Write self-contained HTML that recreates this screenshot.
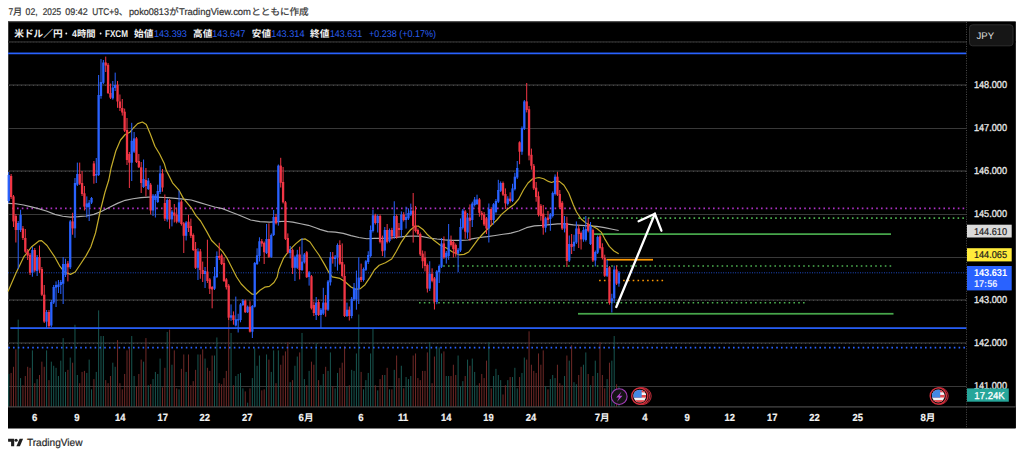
<!DOCTYPE html>
<html><head><meta charset="utf-8"><title>USDJPY</title>
<style>html,body{margin:0;padding:0;background:#fff;}svg{display:block}text{font-family:"Liberation Sans","Noto Sans CJK JP",sans-serif;white-space:pre;text-rendering:geometricPrecision}</style>
</head><body>
<svg width="1024" height="457" viewBox="0 0 1024 457">
<rect width="1024" height="457" fill="#fff"/>
<g id="caption" stroke="#3a3a3a" stroke-width="0.22" aria-label="7月 02, 2025 09:42 UTC+9、poko0813がTradingView.comとともに作成">
<text x="8.4" y="15.3" font-size="9.7" fill="#343434" textLength="4.7" lengthAdjust="spacingAndGlyphs">7</text>
<text x="12.9" y="14.9" font-size="9.2" fill="#343434">月</text>
<text x="25.6" y="15.3" font-size="9.7" fill="#343434" textLength="12" lengthAdjust="spacingAndGlyphs">02,</text>
<text x="42.75" y="15.3" font-size="9.7" fill="#343434" textLength="18.3" lengthAdjust="spacingAndGlyphs">2025</text>
<text x="65.25" y="15.3" font-size="9.7" fill="#343434" textLength="22.4" lengthAdjust="spacingAndGlyphs">09:42</text>
<text x="92.3" y="15.3" font-size="9.7" fill="#343434" textLength="26.5" lengthAdjust="spacingAndGlyphs">UTC+9</text>
<text x="118.8" y="14.9" font-size="9.2" fill="#343434">、</text>
<text x="129" y="15.3" font-size="9.7" fill="#343434" textLength="40" lengthAdjust="spacingAndGlyphs">poko0813</text>
<text x="169.3" y="14.9" font-size="9.4" fill="#343434">が</text>
<text x="179" y="15.3" font-size="9.7" fill="#343434" textLength="72" lengthAdjust="spacingAndGlyphs">TradingView.com</text>
<text x="251.3" y="14.9" font-size="9.4" fill="#343434" textLength="57.4" lengthAdjust="spacingAndGlyphs">とともに作成</text>
</g>
<rect x="8" y="21.5" width="1007.6" height="406.8" fill="#000"/>
<rect x="8" y="21.5" width="1007.6" height="1" fill="#2a2a2a"/>
<rect x="8" y="22" width="1" height="406" fill="#3c3c3c"/>
<g id="grid">
<rect x="8" y="41" width="1007.6" height="1.8" fill="#222"/>
<line x1="9" x2="1015.6" y1="42.1" y2="42.1" stroke="#303030" stroke-width="1" stroke-dasharray="1 2"/>
<rect x="8" y="386.1" width="958.5" height="0.9" fill="#404040"/>
<rect x="8" y="342.1" width="958.5" height="1.8" fill="#262626"/>
<line x1="9" x2="966.5" y1="343.4" y2="343.4" stroke="#4a4a4a" stroke-width="1" stroke-dasharray="1 3"/>
<rect x="8" y="299.1" width="958.5" height="1.8" fill="#262626"/>
<line x1="9" x2="966.5" y1="300.4" y2="300.4" stroke="#4a4a4a" stroke-width="1" stroke-dasharray="1 3"/>
<rect x="8" y="257.1" width="958.5" height="0.9" fill="#404040"/>
<rect x="8" y="214.1" width="958.5" height="0.9" fill="#404040"/>
<rect x="8" y="170.1" width="958.5" height="1.8" fill="#262626"/>
<line x1="9" x2="966.5" y1="171.4" y2="171.4" stroke="#4a4a4a" stroke-width="1" stroke-dasharray="1 3"/>
<rect x="8" y="128.1" width="958.5" height="0.9" fill="#404040"/>
<rect x="8" y="84.1" width="958.5" height="1.8" fill="#262626"/>
<line x1="9" x2="966.5" y1="85.4" y2="85.4" stroke="#4a4a4a" stroke-width="1" stroke-dasharray="1 3"/>
</g>
<g id="vol">
<rect x="8.25" y="373.97" width="1" height="33.03" fill="#185650"/>
<rect x="10.62" y="372.94" width="1" height="34.06" fill="#6e2927"/>
<rect x="12.98" y="366.79" width="1" height="40.21" fill="#6e2927"/>
<rect x="15.35" y="349.36" width="1" height="57.64" fill="#6e2927"/>
<rect x="17.71" y="319.62" width="1" height="87.38" fill="#185650"/>
<rect x="20.08" y="378.07" width="1" height="28.93" fill="#185650"/>
<rect x="22.44" y="385.25" width="1" height="21.75" fill="#6e2927"/>
<rect x="24.8" y="376.02" width="1" height="30.98" fill="#6e2927"/>
<rect x="27.17" y="366.79" width="1" height="40.21" fill="#6e2927"/>
<rect x="29.54" y="367.81" width="1" height="39.19" fill="#6e2927"/>
<rect x="31.9" y="350.38" width="1" height="56.62" fill="#185650"/>
<rect x="34.27" y="383.2" width="1" height="23.8" fill="#6e2927"/>
<rect x="36.63" y="379.09" width="1" height="27.91" fill="#185650"/>
<rect x="39" y="374.99" width="1" height="32.01" fill="#6e2927"/>
<rect x="41.36" y="361.66" width="1" height="45.34" fill="#6e2927"/>
<rect x="43.73" y="366.79" width="1" height="40.21" fill="#6e2927"/>
<rect x="46.09" y="350.38" width="1" height="56.62" fill="#185650"/>
<rect x="48.46" y="380.12" width="1" height="26.88" fill="#6e2927"/>
<rect x="50.82" y="361.66" width="1" height="45.34" fill="#185650"/>
<rect x="53.19" y="365.76" width="1" height="41.24" fill="#185650"/>
<rect x="55.55" y="367.81" width="1" height="39.19" fill="#185650"/>
<rect x="57.92" y="376.02" width="1" height="30.98" fill="#185650"/>
<rect x="60.28" y="360.64" width="1" height="46.36" fill="#185650"/>
<rect x="62.65" y="338.08" width="1" height="68.92" fill="#185650"/>
<rect x="65.01" y="371.92" width="1" height="35.08" fill="#185650"/>
<rect x="67.38" y="369.86" width="1" height="37.14" fill="#6e2927"/>
<rect x="69.74" y="357.56" width="1" height="49.44" fill="#185650"/>
<rect x="72.11" y="362.69" width="1" height="44.31" fill="#6e2927"/>
<rect x="74.47" y="324.75" width="1" height="82.25" fill="#185650"/>
<rect x="76.84" y="374.99" width="1" height="32.01" fill="#185650"/>
<rect x="79.2" y="383.2" width="1" height="23.8" fill="#6e2927"/>
<rect x="81.57" y="371.92" width="1" height="35.08" fill="#6e2927"/>
<rect x="83.93" y="370.89" width="1" height="36.11" fill="#6e2927"/>
<rect x="86.3" y="372.94" width="1" height="34.06" fill="#185650"/>
<rect x="88.66" y="359.61" width="1" height="47.39" fill="#185650"/>
<rect x="91.03" y="389.35" width="1" height="17.65" fill="#185650"/>
<rect x="93.39" y="379.09" width="1" height="27.91" fill="#6e2927"/>
<rect x="95.76" y="371.92" width="1" height="35.08" fill="#185650"/>
<rect x="98.12" y="310.39" width="1" height="96.61" fill="#185650"/>
<rect x="100.49" y="336.03" width="1" height="70.97" fill="#185650"/>
<rect x="102.85" y="336.03" width="1" height="70.97" fill="#185650"/>
<rect x="105.22" y="380.12" width="1" height="26.88" fill="#6e2927"/>
<rect x="107.58" y="383.2" width="1" height="23.8" fill="#6e2927"/>
<rect x="109.95" y="376.02" width="1" height="30.98" fill="#6e2927"/>
<rect x="112.31" y="362.69" width="1" height="44.31" fill="#185650"/>
<rect x="114.68" y="366.79" width="1" height="40.21" fill="#185650"/>
<rect x="117.04" y="340.13" width="1" height="66.87" fill="#6e2927"/>
<rect x="119.41" y="383.2" width="1" height="23.8" fill="#6e2927"/>
<rect x="121.77" y="389.35" width="1" height="17.65" fill="#6e2927"/>
<rect x="124.14" y="373.97" width="1" height="33.03" fill="#6e2927"/>
<rect x="126.5" y="350.38" width="1" height="56.62" fill="#6e2927"/>
<rect x="128.87" y="348.33" width="1" height="58.67" fill="#6e2927"/>
<rect x="131.23" y="336.03" width="1" height="70.97" fill="#185650"/>
<rect x="133.6" y="376.02" width="1" height="30.98" fill="#185650"/>
<rect x="135.96" y="386.27" width="1" height="20.73" fill="#6e2927"/>
<rect x="138.33" y="373.97" width="1" height="33.03" fill="#6e2927"/>
<rect x="140.69" y="359.61" width="1" height="47.39" fill="#6e2927"/>
<rect x="143.06" y="361.66" width="1" height="45.34" fill="#185650"/>
<rect x="145.42" y="338.08" width="1" height="68.92" fill="#6e2927"/>
<rect x="147.79" y="385.25" width="1" height="21.75" fill="#185650"/>
<rect x="150.15" y="384.22" width="1" height="22.78" fill="#6e2927"/>
<rect x="152.52" y="379.09" width="1" height="27.91" fill="#185650"/>
<rect x="154.88" y="371.92" width="1" height="35.08" fill="#185650"/>
<rect x="157.25" y="373.97" width="1" height="33.03" fill="#185650"/>
<rect x="159.61" y="358.58" width="1" height="48.42" fill="#185650"/>
<rect x="161.98" y="387.3" width="1" height="19.7" fill="#6e2927"/>
<rect x="164.34" y="367.81" width="1" height="39.19" fill="#6e2927"/>
<rect x="166.71" y="331.92" width="1" height="75.08" fill="#185650"/>
<rect x="169.07" y="329.67" width="1" height="77.33" fill="#6e2927"/>
<rect x="171.44" y="364.74" width="1" height="42.26" fill="#185650"/>
<rect x="173.8" y="350.38" width="1" height="56.62" fill="#6e2927"/>
<rect x="176.17" y="388.32" width="1" height="18.68" fill="#6e2927"/>
<rect x="178.53" y="389.35" width="1" height="17.65" fill="#185650"/>
<rect x="180.9" y="368.84" width="1" height="38.16" fill="#6e2927"/>
<rect x="183.26" y="354.48" width="1" height="52.52" fill="#6e2927"/>
<rect x="185.63" y="371.92" width="1" height="35.08" fill="#185650"/>
<rect x="187.99" y="354.48" width="1" height="52.52" fill="#6e2927"/>
<rect x="190.36" y="385.25" width="1" height="21.75" fill="#6e2927"/>
<rect x="192.72" y="381.14" width="1" height="25.86" fill="#6e2927"/>
<rect x="195.09" y="369.86" width="1" height="37.14" fill="#6e2927"/>
<rect x="197.45" y="354.48" width="1" height="52.52" fill="#185650"/>
<rect x="199.82" y="354.48" width="1" height="52.52" fill="#6e2927"/>
<rect x="202.18" y="349.36" width="1" height="57.64" fill="#6e2927"/>
<rect x="204.55" y="358.58" width="1" height="48.42" fill="#185650"/>
<rect x="206.91" y="367.81" width="1" height="39.19" fill="#6e2927"/>
<rect x="209.28" y="370.89" width="1" height="36.11" fill="#6e2927"/>
<rect x="211.64" y="355.51" width="1" height="51.49" fill="#6e2927"/>
<rect x="214.01" y="355.51" width="1" height="51.49" fill="#185650"/>
<rect x="216.37" y="337.46" width="1" height="69.54" fill="#185650"/>
<rect x="218.74" y="383.2" width="1" height="23.8" fill="#6e2927"/>
<rect x="221.1" y="384.22" width="1" height="22.78" fill="#6e2927"/>
<rect x="223.47" y="378.07" width="1" height="28.93" fill="#6e2927"/>
<rect x="225.83" y="370.89" width="1" height="36.11" fill="#6e2927"/>
<rect x="228.2" y="317.98" width="1" height="89.02" fill="#6e2927"/>
<rect x="230.56" y="332.95" width="1" height="74.05" fill="#185650"/>
<rect x="232.93" y="385.25" width="1" height="21.75" fill="#6e2927"/>
<rect x="235.29" y="376.02" width="1" height="30.98" fill="#185650"/>
<rect x="237.66" y="373.97" width="1" height="33.03" fill="#185650"/>
<rect x="240.02" y="372.94" width="1" height="34.06" fill="#185650"/>
<rect x="242.39" y="388.32" width="1" height="18.68" fill="#185650"/>
<rect x="244.75" y="391.4" width="1" height="15.6" fill="#6e2927"/>
<rect x="247.12" y="402.68" width="1" height="4.32" fill="#185650"/>
<rect x="249.48" y="388.32" width="1" height="18.68" fill="#6e2927"/>
<rect x="251.85" y="378.07" width="1" height="28.93" fill="#185650"/>
<rect x="254.21" y="348.33" width="1" height="58.67" fill="#185650"/>
<rect x="256.58" y="365.76" width="1" height="41.24" fill="#185650"/>
<rect x="258.94" y="355.51" width="1" height="51.49" fill="#185650"/>
<rect x="261.31" y="390.37" width="1" height="16.63" fill="#6e2927"/>
<rect x="263.67" y="389.35" width="1" height="17.65" fill="#6e2927"/>
<rect x="266.04" y="354.48" width="1" height="52.52" fill="#185650"/>
<rect x="268.4" y="359.61" width="1" height="47.39" fill="#6e2927"/>
<rect x="270.77" y="371.92" width="1" height="35.08" fill="#185650"/>
<rect x="273.13" y="350.38" width="1" height="56.62" fill="#185650"/>
<rect x="275.5" y="383.2" width="1" height="23.8" fill="#6e2927"/>
<rect x="277.86" y="350.38" width="1" height="56.62" fill="#185650"/>
<rect x="280.23" y="364.74" width="1" height="42.26" fill="#6e2927"/>
<rect x="282.59" y="355.51" width="1" height="51.49" fill="#6e2927"/>
<rect x="284.96" y="351.41" width="1" height="55.59" fill="#6e2927"/>
<rect x="287.32" y="342.18" width="1" height="64.82" fill="#6e2927"/>
<rect x="289.69" y="382.17" width="1" height="24.83" fill="#185650"/>
<rect x="292.05" y="380.12" width="1" height="26.88" fill="#6e2927"/>
<rect x="294.42" y="365.76" width="1" height="41.24" fill="#185650"/>
<rect x="296.78" y="356.53" width="1" height="50.47" fill="#185650"/>
<rect x="299.15" y="352.43" width="1" height="54.57" fill="#6e2927"/>
<rect x="301.51" y="332.95" width="1" height="74.05" fill="#185650"/>
<rect x="303.88" y="379.09" width="1" height="27.91" fill="#185650"/>
<rect x="306.24" y="385.25" width="1" height="21.75" fill="#6e2927"/>
<rect x="308.61" y="370.89" width="1" height="36.11" fill="#185650"/>
<rect x="310.97" y="361.66" width="1" height="45.34" fill="#6e2927"/>
<rect x="313.34" y="364.74" width="1" height="42.26" fill="#6e2927"/>
<rect x="315.7" y="343.2" width="1" height="63.8" fill="#185650"/>
<rect x="318.07" y="380.12" width="1" height="26.88" fill="#6e2927"/>
<rect x="320.43" y="385.25" width="1" height="21.75" fill="#185650"/>
<rect x="322.8" y="373.97" width="1" height="33.03" fill="#185650"/>
<rect x="325.16" y="366.79" width="1" height="40.21" fill="#6e2927"/>
<rect x="327.53" y="370.89" width="1" height="36.11" fill="#185650"/>
<rect x="329.89" y="352.43" width="1" height="54.57" fill="#185650"/>
<rect x="332.26" y="386.27" width="1" height="20.73" fill="#6e2927"/>
<rect x="334.62" y="388.32" width="1" height="18.68" fill="#185650"/>
<rect x="336.99" y="372.94" width="1" height="34.06" fill="#185650"/>
<rect x="339.35" y="367.81" width="1" height="39.19" fill="#6e2927"/>
<rect x="341.72" y="362.69" width="1" height="44.31" fill="#6e2927"/>
<rect x="344.08" y="346.28" width="1" height="60.72" fill="#6e2927"/>
<rect x="346.45" y="386.27" width="1" height="20.73" fill="#185650"/>
<rect x="348.81" y="385.25" width="1" height="21.75" fill="#6e2927"/>
<rect x="351.18" y="369.86" width="1" height="37.14" fill="#185650"/>
<rect x="353.54" y="370.89" width="1" height="36.11" fill="#185650"/>
<rect x="355.91" y="353.46" width="1" height="53.54" fill="#185650"/>
<rect x="358.27" y="314.49" width="1" height="92.51" fill="#185650"/>
<rect x="360.64" y="371.92" width="1" height="35.08" fill="#6e2927"/>
<rect x="363" y="389.35" width="1" height="17.65" fill="#185650"/>
<rect x="365.37" y="380.12" width="1" height="26.88" fill="#185650"/>
<rect x="367.73" y="372.94" width="1" height="34.06" fill="#185650"/>
<rect x="370.1" y="353.46" width="1" height="53.54" fill="#185650"/>
<rect x="372.46" y="328.85" width="1" height="78.15" fill="#185650"/>
<rect x="374.83" y="385.25" width="1" height="21.75" fill="#6e2927"/>
<rect x="377.19" y="390.37" width="1" height="16.63" fill="#185650"/>
<rect x="379.56" y="379.09" width="1" height="27.91" fill="#6e2927"/>
<rect x="381.92" y="374.99" width="1" height="32.01" fill="#6e2927"/>
<rect x="384.29" y="374.99" width="1" height="32.01" fill="#185650"/>
<rect x="386.65" y="367.81" width="1" height="39.19" fill="#6e2927"/>
<rect x="389.02" y="389.35" width="1" height="17.65" fill="#185650"/>
<rect x="391.38" y="389.35" width="1" height="17.65" fill="#6e2927"/>
<rect x="393.75" y="369.86" width="1" height="37.14" fill="#185650"/>
<rect x="396.11" y="355.51" width="1" height="51.49" fill="#6e2927"/>
<rect x="398.48" y="378.07" width="1" height="28.93" fill="#6e2927"/>
<rect x="400.84" y="365.76" width="1" height="41.24" fill="#185650"/>
<rect x="403.21" y="388.32" width="1" height="18.68" fill="#6e2927"/>
<rect x="405.57" y="377.04" width="1" height="29.96" fill="#185650"/>
<rect x="407.94" y="379.09" width="1" height="27.91" fill="#185650"/>
<rect x="410.3" y="376.02" width="1" height="30.98" fill="#185650"/>
<rect x="412.67" y="355.51" width="1" height="51.49" fill="#6e2927"/>
<rect x="415.03" y="353.46" width="1" height="53.54" fill="#6e2927"/>
<rect x="417.4" y="378.07" width="1" height="28.93" fill="#6e2927"/>
<rect x="419.76" y="380.12" width="1" height="26.88" fill="#6e2927"/>
<rect x="422.13" y="370.89" width="1" height="36.11" fill="#6e2927"/>
<rect x="424.49" y="370.89" width="1" height="36.11" fill="#6e2927"/>
<rect x="426.86" y="352.43" width="1" height="54.57" fill="#6e2927"/>
<rect x="429.22" y="342.18" width="1" height="64.82" fill="#185650"/>
<rect x="431.59" y="383.2" width="1" height="23.8" fill="#6e2927"/>
<rect x="433.95" y="356.53" width="1" height="50.47" fill="#6e2927"/>
<rect x="436.32" y="346.28" width="1" height="60.72" fill="#185650"/>
<rect x="438.68" y="347.31" width="1" height="59.69" fill="#185650"/>
<rect x="441.05" y="353.46" width="1" height="53.54" fill="#185650"/>
<rect x="443.41" y="351.41" width="1" height="55.59" fill="#6e2927"/>
<rect x="445.78" y="376.02" width="1" height="30.98" fill="#185650"/>
<rect x="448.14" y="376.02" width="1" height="30.98" fill="#185650"/>
<rect x="450.51" y="376.02" width="1" height="30.98" fill="#6e2927"/>
<rect x="452.87" y="364.74" width="1" height="42.26" fill="#6e2927"/>
<rect x="455.24" y="374.99" width="1" height="32.01" fill="#6e2927"/>
<rect x="457.6" y="355.51" width="1" height="51.49" fill="#185650"/>
<rect x="459.97" y="386.27" width="1" height="20.73" fill="#185650"/>
<rect x="462.33" y="381.14" width="1" height="25.86" fill="#185650"/>
<rect x="464.7" y="376.02" width="1" height="30.98" fill="#6e2927"/>
<rect x="467.06" y="359.61" width="1" height="47.39" fill="#185650"/>
<rect x="469.43" y="365.76" width="1" height="41.24" fill="#6e2927"/>
<rect x="471.79" y="358.58" width="1" height="48.42" fill="#185650"/>
<rect x="474.16" y="371.92" width="1" height="35.08" fill="#185650"/>
<rect x="476.52" y="385.25" width="1" height="21.75" fill="#185650"/>
<rect x="478.89" y="383.2" width="1" height="23.8" fill="#6e2927"/>
<rect x="481.25" y="373.97" width="1" height="33.03" fill="#6e2927"/>
<rect x="483.62" y="378.07" width="1" height="28.93" fill="#6e2927"/>
<rect x="485.98" y="360.64" width="1" height="46.36" fill="#6e2927"/>
<rect x="488.35" y="342.18" width="1" height="64.82" fill="#185650"/>
<rect x="490.71" y="388.32" width="1" height="18.68" fill="#6e2927"/>
<rect x="493.08" y="376.02" width="1" height="30.98" fill="#185650"/>
<rect x="495.44" y="368.84" width="1" height="38.16" fill="#185650"/>
<rect x="497.81" y="374.99" width="1" height="32.01" fill="#185650"/>
<rect x="500.17" y="380.12" width="1" height="26.88" fill="#185650"/>
<rect x="502.54" y="394.47" width="1" height="12.53" fill="#6e2927"/>
<rect x="504.9" y="385.25" width="1" height="21.75" fill="#6e2927"/>
<rect x="507.27" y="380.12" width="1" height="26.88" fill="#185650"/>
<rect x="509.63" y="377.04" width="1" height="29.96" fill="#6e2927"/>
<rect x="512" y="377.04" width="1" height="29.96" fill="#185650"/>
<rect x="514.36" y="367.81" width="1" height="39.19" fill="#185650"/>
<rect x="516.73" y="388.32" width="1" height="18.68" fill="#185650"/>
<rect x="519.09" y="377.04" width="1" height="29.96" fill="#6e2927"/>
<rect x="521.46" y="372.94" width="1" height="34.06" fill="#185650"/>
<rect x="523.82" y="357.56" width="1" height="49.44" fill="#185650"/>
<rect x="526.19" y="359.61" width="1" height="47.39" fill="#6e2927"/>
<rect x="528.55" y="331.31" width="1" height="75.69" fill="#6e2927"/>
<rect x="530.92" y="364.74" width="1" height="42.26" fill="#6e2927"/>
<rect x="533.28" y="370.89" width="1" height="36.11" fill="#6e2927"/>
<rect x="535.65" y="372.94" width="1" height="34.06" fill="#6e2927"/>
<rect x="538.01" y="353.46" width="1" height="53.54" fill="#6e2927"/>
<rect x="540.38" y="364.74" width="1" height="42.26" fill="#6e2927"/>
<rect x="542.74" y="350.38" width="1" height="56.62" fill="#6e2927"/>
<rect x="545.11" y="386.27" width="1" height="20.73" fill="#185650"/>
<rect x="547.47" y="389.35" width="1" height="17.65" fill="#6e2927"/>
<rect x="549.84" y="379.09" width="1" height="27.91" fill="#185650"/>
<rect x="552.2" y="374.99" width="1" height="32.01" fill="#185650"/>
<rect x="554.57" y="378.07" width="1" height="28.93" fill="#185650"/>
<rect x="556.93" y="364.74" width="1" height="42.26" fill="#6e2927"/>
<rect x="559.3" y="383.2" width="1" height="23.8" fill="#6e2927"/>
<rect x="561.66" y="385.25" width="1" height="21.75" fill="#6e2927"/>
<rect x="564.03" y="376.02" width="1" height="30.98" fill="#185650"/>
<rect x="566.39" y="355.51" width="1" height="51.49" fill="#6e2927"/>
<rect x="568.75" y="360.64" width="1" height="46.36" fill="#185650"/>
<rect x="571.12" y="345.25" width="1" height="61.75" fill="#6e2927"/>
<rect x="573.49" y="382.17" width="1" height="24.83" fill="#185650"/>
<rect x="575.85" y="384.22" width="1" height="22.78" fill="#185650"/>
<rect x="578.22" y="374.99" width="1" height="32.01" fill="#6e2927"/>
<rect x="580.58" y="366.79" width="1" height="40.21" fill="#6e2927"/>
<rect x="582.95" y="364.74" width="1" height="42.26" fill="#185650"/>
<rect x="585.31" y="352.43" width="1" height="54.57" fill="#185650"/>
<rect x="587.68" y="373.97" width="1" height="33.03" fill="#6e2927"/>
<rect x="590.04" y="385.25" width="1" height="21.75" fill="#185650"/>
<rect x="592.41" y="376.02" width="1" height="30.98" fill="#6e2927"/>
<rect x="594.77" y="360.64" width="1" height="46.36" fill="#185650"/>
<rect x="597.14" y="372.94" width="1" height="34.06" fill="#185650"/>
<rect x="599.5" y="342.18" width="1" height="64.82" fill="#6e2927"/>
<rect x="601.87" y="374.99" width="1" height="32.01" fill="#6e2927"/>
<rect x="604.23" y="388.32" width="1" height="18.68" fill="#6e2927"/>
<rect x="606.6" y="379.09" width="1" height="27.91" fill="#185650"/>
<rect x="608.96" y="362.69" width="1" height="44.31" fill="#6e2927"/>
<rect x="611.33" y="360.64" width="1" height="46.36" fill="#185650"/>
<rect x="613.69" y="336.03" width="1" height="70.97" fill="#185650"/>
<rect x="616.06" y="384.22" width="1" height="22.78" fill="#6e2927"/>
<rect x="618.42" y="386.27" width="1" height="20.73" fill="#185650"/>
</g>
<g id="hl">
<rect x="8" y="52.55" width="958.5" height="1.7" fill="#2962ff"/>
<rect x="10.3" y="327.25" width="956.2" height="1.7" fill="#2962ff"/>
<line x1="12.2" x2="966.5" y1="208.4" y2="208.4" stroke="#ac30c4" stroke-width="1.6" stroke-dasharray="1.6 3.2" opacity="1"/>
<line x1="8.2" x2="966.5" y1="347.6" y2="347.6" stroke="#2962ff" stroke-width="1.6" stroke-dasharray="1.6 3.2" opacity="1"/>
<line x1="578.35" x2="966.5" y1="218.1" y2="218.1" stroke="#4caf50" stroke-width="1.6" stroke-dasharray="1.6 3.2" opacity="1"/>
<line x1="443.2" x2="892" y1="266" y2="266" stroke="#4caf50" stroke-width="1.6" stroke-dasharray="1.6 3.2" opacity="1"/>
<line x1="419" x2="806.3" y1="302.8" y2="302.8" stroke="#4caf50" stroke-width="1.6" stroke-dasharray="1.6 3.2" opacity="1"/>
<line x1="599.1" x2="664.5" y1="280.5" y2="280.5" stroke="#ff9800" stroke-width="1.6" stroke-dasharray="1.6 3.2" opacity="1"/>
<line x1="8" x2="966.5" y1="272.8" y2="272.8" stroke="#2962ff" stroke-width="1" stroke-dasharray="0.9 1.5" opacity="0.85"/>
<rect x="594" y="233.25" width="297" height="1.75" fill="#47a64b"/>
<rect x="578" y="312.9" width="315.5" height="1.75" fill="#47a64b"/>
<rect x="606.5" y="258.85" width="46.5" height="1.75" fill="#ff9800"/>
</g>
<polyline fill="none" stroke="#adadad" stroke-width="1.2" stroke-linejoin="round" points="8,203.4 15.8,203.75 23.6,205 31.4,206.9 39.25,208.9 47,211.25 54.9,214.4 62.7,216.25 70.5,217.2 78.3,216.7 86.1,216 93.9,214.4 101.75,211.25 109.6,207.3 117.4,203.4 125.2,200.3 133,198.75 140.8,197.7 148.6,197.2 156.4,197.2 164.25,197.5 167.8,197.7 175.6,198.4 183.4,199.2 191.25,200 199,202.3 206.9,204.7 214.7,207 222.5,208.6 230.3,211.7 238.1,214.8 245.9,218 250.6,220 260,221.7 269.4,222.2 278.75,221.7 285,221.25 292.8,222.2 300.6,223.75 308.4,225.3 316.25,228 319.8,229.4 327.6,231.7 335.4,232.2 343.25,233.3 351,235.6 358.9,237.5 366.7,238.75 374.5,238.4 382.3,238.3 390,238 398,237.2 405.75,236.4 413.6,236 421.4,236.4 429.2,238 437,239 444.8,239.8 452.6,240.3 460.4,240.3 468.25,240 471.8,238.9 479.6,237.5 487.4,236.6 495.25,235.5 503,234.25 510.9,233.2 518.7,231 526.5,227.7 534.3,225.8 542.1,225.3 549.9,224.6 557.75,223.8 565.6,223.8 573.4,224.9 581.2,225.3 589,225.8 596.8,226.4 604.6,227.7 612.4,229.25 618.7,230.5"/>
<polyline fill="none" stroke="#c4ac2a" stroke-width="1.2" stroke-linejoin="round" points="8,291.6 15.8,273.6 23.6,257.2 31.4,247 39.25,240.8 41.6,240.6 47,245.5 54.9,257.2 59.6,265.8 64.25,272 70.5,274.4 75.2,272 79.9,265 86.1,255.6 90.8,247 95.5,233 100.2,211.25 104.9,192.5 108.8,180 111.1,168 115.8,151 120.5,140 125.2,134.5 129.9,132.2 133,128.3 137.7,123.6 142.4,122 146.3,124.4 150.2,133.75 154.9,146.25 159.6,154 164.25,163.4 166.25,170.3 172.5,182.8 178.75,189.8 183.4,198.4 191.25,207.8 195.9,215.6 200.6,221 206.9,231.9 211.6,240.5 217.8,246.7 222.5,251.4 227.2,258.4 231.9,267.8 236.6,277 241.25,284 247.5,290.3 252.2,294.2 255.3,294.7 260,290.3 264.7,287.2 269.4,286.4 274,282.5 277.2,277 278.75,269.4 283.4,258.4 289.7,249.8 295.9,243.6 300.6,239.7 305.3,238.9 310,242 314.7,249 319,255 324.5,264.4 329.2,273 332.3,276.9 340,278.4 344.8,281.5 351,287 355.75,289.4 360.4,288.6 365,284.7 369.8,277.6 374.5,269.8 379.2,265.2 385.4,262.8 391.7,259 396.4,251.25 401,242.6 405.75,235.6 410.4,230 415,226.25 418.25,226 423,229.4 427.6,234.8 433.9,240.3 440,245 446.4,248 452.6,252 458.9,254.8 464,254.4 468.7,252 473.4,245.7 478,239.4 482.75,234 487.4,229.25 492,224.5 496.8,220 501.5,214.4 507.75,209 514,204.5 518.7,199 523.4,190 528,183 532.75,178.75 539,177.5 543.7,178.75 548.4,181.4 551.5,182.5 554.6,181.4 559.3,181.4 564,185.3 568.7,193 573.4,205 576.5,212 581.2,219 585.9,223 592,226 596.8,228.5 601.5,232.4 604.6,238.6 609.3,246.4 614,251 618.7,253.8"/>
<g id="candles">
<rect x="8.25" y="172" width="1" height="31" fill="#2962ff"/>
<rect x="7.6" y="175" width="2.3" height="26" fill="#2962ff"/>
<rect x="10.62" y="174" width="1" height="25" fill="#f23645"/>
<rect x="9.96" y="176" width="2.3" height="21" fill="#f23645"/>
<rect x="12.98" y="195" width="1" height="32" fill="#f23645"/>
<rect x="12.33" y="196.4" width="2.3" height="25" fill="#f23645"/>
<rect x="15.35" y="214" width="1" height="28.5" fill="#f23645"/>
<rect x="14.7" y="216" width="2.3" height="14" fill="#f23645"/>
<rect x="17.71" y="221" width="1" height="48" fill="#2962ff"/>
<rect x="17.06" y="223" width="2.3" height="7" fill="#2962ff"/>
<rect x="20.08" y="209.7" width="1" height="22.3" fill="#2962ff"/>
<rect x="19.43" y="215" width="2.3" height="15" fill="#2962ff"/>
<rect x="22.44" y="226" width="1" height="14" fill="#f23645"/>
<rect x="21.79" y="228.4" width="2.3" height="9.6" fill="#f23645"/>
<rect x="24.8" y="229" width="1" height="24" fill="#f23645"/>
<rect x="24.16" y="238" width="2.3" height="13.7" fill="#f23645"/>
<rect x="27.17" y="249" width="1" height="11" fill="#f23645"/>
<rect x="26.52" y="251" width="2.3" height="4.6" fill="#f23645"/>
<rect x="29.54" y="253" width="1" height="22" fill="#f23645"/>
<rect x="28.89" y="254.8" width="2.3" height="18" fill="#f23645"/>
<rect x="31.9" y="247" width="1" height="29.7" fill="#2962ff"/>
<rect x="31.25" y="250" width="2.3" height="22.8" fill="#2962ff"/>
<rect x="34.27" y="248" width="1" height="24" fill="#f23645"/>
<rect x="33.62" y="250" width="2.3" height="20.5" fill="#f23645"/>
<rect x="36.63" y="255" width="1" height="21" fill="#2962ff"/>
<rect x="35.98" y="257" width="2.3" height="14" fill="#2962ff"/>
<rect x="39" y="245.5" width="1" height="27.5" fill="#f23645"/>
<rect x="38.35" y="257" width="2.3" height="12.7" fill="#f23645"/>
<rect x="41.36" y="267" width="1" height="29" fill="#f23645"/>
<rect x="40.71" y="269" width="2.3" height="25.7" fill="#f23645"/>
<rect x="43.73" y="285" width="1" height="38" fill="#f23645"/>
<rect x="43.08" y="294.7" width="2.3" height="26.9" fill="#f23645"/>
<rect x="46.09" y="310" width="1" height="17.8" fill="#2962ff"/>
<rect x="45.44" y="312" width="2.3" height="9.6" fill="#2962ff"/>
<rect x="48.46" y="310" width="1" height="18" fill="#f23645"/>
<rect x="47.81" y="312" width="2.3" height="14" fill="#f23645"/>
<rect x="50.82" y="300" width="1" height="27" fill="#2962ff"/>
<rect x="50.17" y="302" width="2.3" height="23.5" fill="#2962ff"/>
<rect x="53.19" y="285" width="1" height="19" fill="#2962ff"/>
<rect x="52.54" y="287" width="2.3" height="15.5" fill="#2962ff"/>
<rect x="55.55" y="281.4" width="1" height="25.6" fill="#2962ff"/>
<rect x="54.9" y="285" width="2.3" height="2.6" fill="#2962ff"/>
<rect x="57.92" y="280" width="1" height="13" fill="#2962ff"/>
<rect x="57.27" y="284.5" width="2.3" height="2.5" fill="#2962ff"/>
<rect x="60.28" y="280" width="1" height="14" fill="#2962ff"/>
<rect x="59.63" y="282" width="2.3" height="3" fill="#2962ff"/>
<rect x="62.65" y="257" width="1" height="47" fill="#2962ff"/>
<rect x="62" y="264" width="2.3" height="19.75" fill="#2962ff"/>
<rect x="65.01" y="258.75" width="1" height="18.25" fill="#2962ff"/>
<rect x="64.36" y="264" width="2.3" height="11" fill="#2962ff"/>
<rect x="67.38" y="261" width="1" height="20.4" fill="#f23645"/>
<rect x="66.72" y="263.4" width="2.3" height="3.9" fill="#f23645"/>
<rect x="69.74" y="220" width="1" height="49" fill="#2962ff"/>
<rect x="69.09" y="221.4" width="2.3" height="45.9" fill="#2962ff"/>
<rect x="72.11" y="212.8" width="1" height="21.9" fill="#f23645"/>
<rect x="71.45" y="221.4" width="2.3" height="7" fill="#f23645"/>
<rect x="74.47" y="178" width="1" height="59.8" fill="#2962ff"/>
<rect x="73.82" y="183" width="2.3" height="45.4" fill="#2962ff"/>
<rect x="76.84" y="162.6" width="1" height="23.4" fill="#2962ff"/>
<rect x="76.19" y="174" width="2.3" height="10.7" fill="#2962ff"/>
<rect x="79.2" y="162.6" width="1" height="22.4" fill="#f23645"/>
<rect x="78.55" y="174" width="2.3" height="9.7" fill="#f23645"/>
<rect x="81.57" y="171" width="1" height="25" fill="#f23645"/>
<rect x="80.92" y="183" width="2.3" height="11" fill="#f23645"/>
<rect x="83.93" y="186" width="1" height="24.5" fill="#f23645"/>
<rect x="83.28" y="193.3" width="2.3" height="13.3" fill="#f23645"/>
<rect x="86.3" y="196.4" width="1" height="21.1" fill="#2962ff"/>
<rect x="85.64" y="203.4" width="2.3" height="3.9" fill="#2962ff"/>
<rect x="88.66" y="200" width="1" height="21" fill="#2962ff"/>
<rect x="88.01" y="202.6" width="2.3" height="4.7" fill="#2962ff"/>
<rect x="91.03" y="197" width="1" height="7" fill="#2962ff"/>
<rect x="90.38" y="198" width="2.3" height="4.6" fill="#2962ff"/>
<rect x="93.39" y="161" width="1" height="22.7" fill="#f23645"/>
<rect x="92.74" y="163.4" width="2.3" height="12.6" fill="#f23645"/>
<rect x="95.76" y="158" width="1" height="25" fill="#2962ff"/>
<rect x="95.11" y="174" width="2.3" height="1.5" fill="#2962ff"/>
<rect x="98.12" y="75" width="1" height="101" fill="#2962ff"/>
<rect x="97.47" y="95" width="2.3" height="80" fill="#2962ff"/>
<rect x="100.49" y="59" width="1" height="39.7" fill="#2962ff"/>
<rect x="99.84" y="82" width="2.3" height="14" fill="#2962ff"/>
<rect x="102.85" y="60" width="1" height="24" fill="#2962ff"/>
<rect x="102.2" y="62.5" width="2.3" height="20.3" fill="#2962ff"/>
<rect x="105.22" y="56.6" width="1" height="15.4" fill="#f23645"/>
<rect x="104.56" y="62.5" width="2.3" height="3.1" fill="#f23645"/>
<rect x="107.58" y="63" width="1" height="31" fill="#f23645"/>
<rect x="106.93" y="64.8" width="2.3" height="28.2" fill="#f23645"/>
<rect x="109.95" y="83.6" width="1" height="15.4" fill="#f23645"/>
<rect x="109.3" y="93" width="2.3" height="4.6" fill="#f23645"/>
<rect x="112.31" y="81" width="1" height="18.7" fill="#2962ff"/>
<rect x="111.66" y="87.5" width="2.3" height="10.9" fill="#2962ff"/>
<rect x="114.68" y="72.6" width="1" height="18.4" fill="#2962ff"/>
<rect x="114.03" y="85" width="2.3" height="3" fill="#2962ff"/>
<rect x="117.04" y="81" width="1" height="26.8" fill="#f23645"/>
<rect x="116.39" y="84.7" width="2.3" height="16.8" fill="#f23645"/>
<rect x="119.41" y="94.5" width="1" height="16.5" fill="#f23645"/>
<rect x="118.76" y="101.5" width="2.3" height="6.5" fill="#f23645"/>
<rect x="121.77" y="99" width="1" height="16.6" fill="#f23645"/>
<rect x="121.12" y="108" width="2.3" height="4.5" fill="#f23645"/>
<rect x="124.14" y="108.6" width="1" height="23.4" fill="#f23645"/>
<rect x="123.48" y="111.7" width="2.3" height="18.9" fill="#f23645"/>
<rect x="126.5" y="118" width="1" height="47" fill="#f23645"/>
<rect x="125.85" y="130" width="2.3" height="30" fill="#f23645"/>
<rect x="128.87" y="152" width="1" height="36" fill="#f23645"/>
<rect x="128.22" y="154" width="2.3" height="8.7" fill="#f23645"/>
<rect x="131.23" y="122.8" width="1" height="58.2" fill="#2962ff"/>
<rect x="130.58" y="140.8" width="2.3" height="21.9" fill="#2962ff"/>
<rect x="133.6" y="132" width="1" height="21" fill="#2962ff"/>
<rect x="132.95" y="138.4" width="2.3" height="13.3" fill="#2962ff"/>
<rect x="135.96" y="137" width="1" height="26" fill="#f23645"/>
<rect x="135.31" y="138.4" width="2.3" height="23.6" fill="#f23645"/>
<rect x="138.33" y="154" width="1" height="14" fill="#f23645"/>
<rect x="137.68" y="161" width="2.3" height="6.3" fill="#f23645"/>
<rect x="140.69" y="162" width="1" height="31" fill="#f23645"/>
<rect x="140.04" y="167.3" width="2.3" height="15.7" fill="#f23645"/>
<rect x="143.06" y="159.5" width="1" height="28.5" fill="#2962ff"/>
<rect x="142.41" y="179" width="2.3" height="8" fill="#2962ff"/>
<rect x="145.42" y="168" width="1" height="28.4" fill="#f23645"/>
<rect x="144.77" y="180" width="2.3" height="6" fill="#f23645"/>
<rect x="147.79" y="178" width="1" height="12" fill="#2962ff"/>
<rect x="147.14" y="180.6" width="2.3" height="8.4" fill="#2962ff"/>
<rect x="150.15" y="183" width="1" height="31.4" fill="#f23645"/>
<rect x="149.5" y="184.7" width="2.3" height="25.8" fill="#f23645"/>
<rect x="152.52" y="194" width="1" height="22" fill="#2962ff"/>
<rect x="151.87" y="195.6" width="2.3" height="14.9" fill="#2962ff"/>
<rect x="154.88" y="194" width="1" height="23.5" fill="#2962ff"/>
<rect x="154.23" y="195.6" width="2.3" height="4.4" fill="#2962ff"/>
<rect x="157.25" y="184.7" width="1" height="18.3" fill="#2962ff"/>
<rect x="156.59" y="191" width="2.3" height="11" fill="#2962ff"/>
<rect x="159.61" y="165.6" width="1" height="28.4" fill="#2962ff"/>
<rect x="158.96" y="173.4" width="2.3" height="18.6" fill="#2962ff"/>
<rect x="161.98" y="169" width="1" height="22.7" fill="#f23645"/>
<rect x="161.33" y="173.4" width="2.3" height="14.1" fill="#f23645"/>
<rect x="164.34" y="194.5" width="1" height="26.5" fill="#f23645"/>
<rect x="163.69" y="203" width="2.3" height="15.7" fill="#f23645"/>
<rect x="166.71" y="198.4" width="1" height="23.3" fill="#2962ff"/>
<rect x="166.06" y="200" width="2.3" height="19.4" fill="#2962ff"/>
<rect x="169.07" y="199" width="1" height="29.75" fill="#f23645"/>
<rect x="168.42" y="200" width="2.3" height="19.4" fill="#f23645"/>
<rect x="171.44" y="210" width="1" height="16.4" fill="#2962ff"/>
<rect x="170.78" y="211.6" width="2.3" height="7.8" fill="#2962ff"/>
<rect x="173.8" y="204" width="1" height="18.5" fill="#f23645"/>
<rect x="173.15" y="212.5" width="2.3" height="3.1" fill="#f23645"/>
<rect x="176.17" y="207.8" width="1" height="15.5" fill="#f23645"/>
<rect x="175.52" y="214.7" width="2.3" height="7" fill="#f23645"/>
<rect x="178.53" y="190.6" width="1" height="32.4" fill="#2962ff"/>
<rect x="177.88" y="202.3" width="2.3" height="19.4" fill="#2962ff"/>
<rect x="180.9" y="200" width="1" height="25.6" fill="#f23645"/>
<rect x="180.25" y="201.5" width="2.3" height="22.5" fill="#f23645"/>
<rect x="183.26" y="222" width="1" height="31" fill="#f23645"/>
<rect x="182.61" y="223.3" width="2.3" height="12.5" fill="#f23645"/>
<rect x="185.63" y="221" width="1" height="19.5" fill="#2962ff"/>
<rect x="184.98" y="222.5" width="2.3" height="13.3" fill="#2962ff"/>
<rect x="187.99" y="214.7" width="1" height="17.3" fill="#f23645"/>
<rect x="187.34" y="221.7" width="2.3" height="6.3" fill="#f23645"/>
<rect x="190.36" y="218.6" width="1" height="19.4" fill="#f23645"/>
<rect x="189.71" y="226" width="2.3" height="9.8" fill="#f23645"/>
<rect x="192.72" y="233.4" width="1" height="17.6" fill="#f23645"/>
<rect x="192.07" y="235" width="2.3" height="15" fill="#f23645"/>
<rect x="195.09" y="242" width="1" height="27" fill="#f23645"/>
<rect x="194.44" y="249" width="2.3" height="18.8" fill="#f23645"/>
<rect x="197.45" y="248.3" width="1" height="31.7" fill="#2962ff"/>
<rect x="196.8" y="251.4" width="2.3" height="16.4" fill="#2962ff"/>
<rect x="199.82" y="249" width="1" height="29.75" fill="#f23645"/>
<rect x="199.17" y="251.4" width="2.3" height="18.6" fill="#f23645"/>
<rect x="202.18" y="261.6" width="1" height="20.4" fill="#f23645"/>
<rect x="201.53" y="270" width="2.3" height="4" fill="#f23645"/>
<rect x="204.55" y="267" width="1" height="21" fill="#2962ff"/>
<rect x="203.9" y="271" width="2.3" height="3" fill="#2962ff"/>
<rect x="206.91" y="239.7" width="1" height="43.3" fill="#f23645"/>
<rect x="206.26" y="271.6" width="2.3" height="9.4" fill="#f23645"/>
<rect x="209.28" y="278" width="1" height="16" fill="#f23645"/>
<rect x="208.62" y="279.4" width="2.3" height="9.35" fill="#f23645"/>
<rect x="211.64" y="286" width="1" height="22.3" fill="#f23645"/>
<rect x="210.99" y="287" width="2.3" height="2.5" fill="#f23645"/>
<rect x="214.01" y="267" width="1" height="23" fill="#2962ff"/>
<rect x="213.36" y="276.25" width="2.3" height="12.5" fill="#2962ff"/>
<rect x="216.37" y="251.4" width="1" height="26.6" fill="#2962ff"/>
<rect x="215.72" y="256" width="2.3" height="21" fill="#2962ff"/>
<rect x="218.74" y="242.8" width="1" height="17.2" fill="#f23645"/>
<rect x="218.09" y="256" width="2.3" height="2" fill="#f23645"/>
<rect x="221.1" y="253.75" width="1" height="11.25" fill="#f23645"/>
<rect x="220.45" y="255.3" width="2.3" height="8.7" fill="#f23645"/>
<rect x="223.47" y="257.6" width="1" height="24.4" fill="#f23645"/>
<rect x="222.82" y="263" width="2.3" height="18" fill="#f23645"/>
<rect x="225.83" y="278" width="1" height="11.5" fill="#f23645"/>
<rect x="225.18" y="279.4" width="2.3" height="7.8" fill="#f23645"/>
<rect x="228.2" y="284" width="1" height="36" fill="#f23645"/>
<rect x="227.55" y="285.6" width="2.3" height="32.1" fill="#f23645"/>
<rect x="230.56" y="304.4" width="1" height="16.4" fill="#2962ff"/>
<rect x="229.91" y="315.3" width="2.3" height="2.4" fill="#2962ff"/>
<rect x="232.93" y="311.4" width="1" height="13.3" fill="#f23645"/>
<rect x="232.28" y="315.3" width="2.3" height="4.7" fill="#f23645"/>
<rect x="235.29" y="296.6" width="1" height="29.9" fill="#2962ff"/>
<rect x="234.64" y="319.2" width="2.3" height="6.3" fill="#2962ff"/>
<rect x="237.66" y="313.75" width="1" height="18.75" fill="#2962ff"/>
<rect x="237.01" y="319.2" width="2.3" height="1.3" fill="#2962ff"/>
<rect x="240.02" y="303" width="1" height="19.3" fill="#2962ff"/>
<rect x="239.37" y="304.4" width="2.3" height="15.6" fill="#2962ff"/>
<rect x="242.39" y="299" width="1" height="7" fill="#2962ff"/>
<rect x="241.74" y="300.5" width="2.3" height="4.5" fill="#2962ff"/>
<rect x="244.75" y="299.5" width="1" height="13.5" fill="#f23645"/>
<rect x="244.1" y="300.5" width="2.3" height="11.7" fill="#f23645"/>
<rect x="247.12" y="305.5" width="1" height="7.5" fill="#2962ff"/>
<rect x="246.47" y="306.7" width="2.3" height="5.5" fill="#2962ff"/>
<rect x="249.48" y="301.25" width="1" height="31.25" fill="#f23645"/>
<rect x="248.83" y="306.7" width="2.3" height="25" fill="#f23645"/>
<rect x="251.85" y="305" width="1" height="33" fill="#2962ff"/>
<rect x="251.2" y="306" width="2.3" height="25.7" fill="#2962ff"/>
<rect x="254.21" y="262" width="1" height="45.5" fill="#2962ff"/>
<rect x="253.56" y="263" width="2.3" height="43.7" fill="#2962ff"/>
<rect x="256.58" y="248.3" width="1" height="16.7" fill="#2962ff"/>
<rect x="255.93" y="255.3" width="2.3" height="8.7" fill="#2962ff"/>
<rect x="258.94" y="237.3" width="1" height="24.2" fill="#2962ff"/>
<rect x="258.29" y="241.25" width="2.3" height="14.75" fill="#2962ff"/>
<rect x="261.31" y="239" width="1" height="7.7" fill="#f23645"/>
<rect x="260.66" y="241.25" width="2.3" height="2.35" fill="#f23645"/>
<rect x="263.67" y="241.5" width="1" height="22.5" fill="#f23645"/>
<rect x="263.02" y="242.8" width="2.3" height="9.4" fill="#f23645"/>
<rect x="266.04" y="224" width="1" height="30" fill="#2962ff"/>
<rect x="265.39" y="239" width="2.3" height="14" fill="#2962ff"/>
<rect x="268.4" y="223.3" width="1" height="34.7" fill="#f23645"/>
<rect x="267.75" y="239" width="2.3" height="17.9" fill="#f23645"/>
<rect x="270.77" y="233.5" width="1" height="24.5" fill="#2962ff"/>
<rect x="270.12" y="235" width="2.3" height="21.9" fill="#2962ff"/>
<rect x="273.13" y="210" width="1" height="26" fill="#2962ff"/>
<rect x="272.48" y="217" width="2.3" height="18" fill="#2962ff"/>
<rect x="275.5" y="213.9" width="1" height="10.6" fill="#f23645"/>
<rect x="274.85" y="217" width="2.3" height="6.3" fill="#f23645"/>
<rect x="277.86" y="164.5" width="1" height="61.1" fill="#2962ff"/>
<rect x="277.21" y="165.6" width="2.3" height="56.1" fill="#2962ff"/>
<rect x="280.23" y="157.8" width="1" height="29.7" fill="#f23645"/>
<rect x="279.58" y="165.6" width="2.3" height="17.2" fill="#f23645"/>
<rect x="282.59" y="167" width="1" height="36.5" fill="#f23645"/>
<rect x="281.94" y="182" width="2.3" height="20.3" fill="#f23645"/>
<rect x="284.96" y="201" width="1" height="39" fill="#f23645"/>
<rect x="284.31" y="202.3" width="2.3" height="36.6" fill="#f23645"/>
<rect x="287.32" y="233.4" width="1" height="20.35" fill="#f23645"/>
<rect x="286.67" y="238" width="2.3" height="14.2" fill="#f23645"/>
<rect x="289.69" y="246" width="1" height="12.4" fill="#2962ff"/>
<rect x="289.04" y="250" width="2.3" height="3" fill="#2962ff"/>
<rect x="292.05" y="248.5" width="1" height="25.5" fill="#f23645"/>
<rect x="291.4" y="249.8" width="2.3" height="18" fill="#f23645"/>
<rect x="294.42" y="255.5" width="1" height="25.5" fill="#2962ff"/>
<rect x="293.77" y="256.9" width="2.3" height="10.9" fill="#2962ff"/>
<rect x="296.78" y="249.8" width="1" height="19.2" fill="#2962ff"/>
<rect x="296.13" y="254.5" width="2.3" height="13.3" fill="#2962ff"/>
<rect x="299.15" y="246.7" width="1" height="32.7" fill="#f23645"/>
<rect x="298.5" y="254.5" width="2.3" height="15.5" fill="#f23645"/>
<rect x="301.51" y="238" width="1" height="33" fill="#2962ff"/>
<rect x="300.86" y="261.6" width="2.3" height="8.4" fill="#2962ff"/>
<rect x="303.88" y="253" width="1" height="10.5" fill="#2962ff"/>
<rect x="303.23" y="254.5" width="2.3" height="7.8" fill="#2962ff"/>
<rect x="306.24" y="251" width="1" height="27" fill="#f23645"/>
<rect x="305.59" y="252.2" width="2.3" height="25" fill="#f23645"/>
<rect x="308.61" y="271" width="1" height="14.6" fill="#2962ff"/>
<rect x="307.96" y="272.3" width="2.3" height="4.7" fill="#2962ff"/>
<rect x="310.97" y="275" width="1" height="34.5" fill="#f23645"/>
<rect x="310.32" y="276.25" width="2.3" height="32.05" fill="#f23645"/>
<rect x="313.34" y="301.5" width="1" height="14.5" fill="#f23645"/>
<rect x="312.69" y="305" width="2.3" height="8" fill="#f23645"/>
<rect x="315.7" y="297" width="1" height="23" fill="#2962ff"/>
<rect x="315.05" y="302.6" width="2.3" height="12.4" fill="#2962ff"/>
<rect x="318.07" y="299.5" width="1" height="16.5" fill="#f23645"/>
<rect x="317.42" y="302" width="2.3" height="13" fill="#f23645"/>
<rect x="320.43" y="308" width="1" height="20.3" fill="#2962ff"/>
<rect x="319.78" y="309.7" width="2.3" height="5.3" fill="#2962ff"/>
<rect x="322.8" y="287.8" width="1" height="27.2" fill="#2962ff"/>
<rect x="322.15" y="302.6" width="2.3" height="11" fill="#2962ff"/>
<rect x="325.16" y="295" width="1" height="21.7" fill="#f23645"/>
<rect x="324.51" y="302.6" width="2.3" height="7.1" fill="#f23645"/>
<rect x="327.53" y="280" width="1" height="31" fill="#2962ff"/>
<rect x="326.88" y="281.5" width="2.3" height="28.2" fill="#2962ff"/>
<rect x="329.89" y="252" width="1" height="33.5" fill="#2962ff"/>
<rect x="329.24" y="257.3" width="2.3" height="25" fill="#2962ff"/>
<rect x="332.26" y="252" width="1" height="11.6" fill="#f23645"/>
<rect x="331.61" y="256.7" width="2.3" height="1.8" fill="#f23645"/>
<rect x="334.62" y="255" width="1" height="11.7" fill="#2962ff"/>
<rect x="333.97" y="256.7" width="2.3" height="2.3" fill="#2962ff"/>
<rect x="336.99" y="243.4" width="1" height="27.2" fill="#2962ff"/>
<rect x="336.34" y="245" width="2.3" height="12.5" fill="#2962ff"/>
<rect x="339.35" y="240.3" width="1" height="24.7" fill="#f23645"/>
<rect x="338.7" y="245" width="2.3" height="18.7" fill="#f23645"/>
<rect x="341.72" y="243.4" width="1" height="34.1" fill="#f23645"/>
<rect x="341.07" y="262" width="2.3" height="14" fill="#f23645"/>
<rect x="344.08" y="264.4" width="1" height="52.6" fill="#f23645"/>
<rect x="343.43" y="276" width="2.3" height="40" fill="#f23645"/>
<rect x="346.45" y="302.6" width="1" height="14.4" fill="#2962ff"/>
<rect x="345.8" y="309.7" width="2.3" height="6.3" fill="#2962ff"/>
<rect x="348.81" y="306.5" width="1" height="14" fill="#f23645"/>
<rect x="348.16" y="309.7" width="2.3" height="6.3" fill="#f23645"/>
<rect x="351.18" y="297" width="1" height="21.3" fill="#2962ff"/>
<rect x="350.53" y="298.75" width="2.3" height="17.25" fill="#2962ff"/>
<rect x="353.54" y="283" width="1" height="18" fill="#2962ff"/>
<rect x="352.89" y="287.8" width="2.3" height="11.7" fill="#2962ff"/>
<rect x="355.91" y="270.6" width="1" height="39.1" fill="#2962ff"/>
<rect x="355.26" y="288.6" width="2.3" height="10.9" fill="#2962ff"/>
<rect x="358.27" y="257.3" width="1" height="46.7" fill="#2962ff"/>
<rect x="357.62" y="277.6" width="2.3" height="11" fill="#2962ff"/>
<rect x="360.64" y="263.6" width="1" height="18.4" fill="#f23645"/>
<rect x="359.99" y="276.9" width="2.3" height="3.1" fill="#f23645"/>
<rect x="363" y="267.5" width="1" height="14" fill="#2962ff"/>
<rect x="362.35" y="269" width="2.3" height="11" fill="#2962ff"/>
<rect x="365.37" y="260" width="1" height="11" fill="#2962ff"/>
<rect x="364.72" y="261.25" width="2.3" height="8.55" fill="#2962ff"/>
<rect x="367.73" y="251.25" width="1" height="12.75" fill="#2962ff"/>
<rect x="367.08" y="255" width="2.3" height="7" fill="#2962ff"/>
<rect x="370.1" y="225.5" width="1" height="32" fill="#2962ff"/>
<rect x="369.45" y="230" width="2.3" height="26" fill="#2962ff"/>
<rect x="372.46" y="209.8" width="1" height="22.7" fill="#2962ff"/>
<rect x="371.81" y="215.3" width="2.3" height="15.7" fill="#2962ff"/>
<rect x="374.83" y="213.75" width="1" height="10.75" fill="#f23645"/>
<rect x="374.18" y="215.3" width="2.3" height="7.7" fill="#f23645"/>
<rect x="377.19" y="214.5" width="1" height="18" fill="#2962ff"/>
<rect x="376.54" y="216" width="2.3" height="7" fill="#2962ff"/>
<rect x="379.56" y="214.5" width="1" height="28.9" fill="#f23645"/>
<rect x="378.91" y="216" width="2.3" height="25.9" fill="#f23645"/>
<rect x="381.92" y="235.6" width="1" height="20.4" fill="#f23645"/>
<rect x="381.27" y="240.3" width="2.3" height="10.95" fill="#f23645"/>
<rect x="384.29" y="227" width="1" height="30.5" fill="#2962ff"/>
<rect x="383.64" y="230" width="2.3" height="20.5" fill="#2962ff"/>
<rect x="386.65" y="224" width="1" height="19.4" fill="#f23645"/>
<rect x="386" y="230" width="2.3" height="11.9" fill="#f23645"/>
<rect x="389.02" y="228.5" width="1" height="14" fill="#2962ff"/>
<rect x="388.37" y="230" width="2.3" height="11" fill="#2962ff"/>
<rect x="391.38" y="227.8" width="1" height="11.7" fill="#f23645"/>
<rect x="390.73" y="230" width="2.3" height="6.4" fill="#f23645"/>
<rect x="393.75" y="201.25" width="1" height="37.5" fill="#2962ff"/>
<rect x="393.1" y="216" width="2.3" height="20.4" fill="#2962ff"/>
<rect x="396.11" y="214.5" width="1" height="24.25" fill="#f23645"/>
<rect x="395.46" y="216" width="2.3" height="21.2" fill="#f23645"/>
<rect x="398.48" y="223" width="1" height="14" fill="#f23645"/>
<rect x="397.83" y="228" width="2.3" height="2" fill="#f23645"/>
<rect x="400.84" y="211.4" width="1" height="25.8" fill="#2962ff"/>
<rect x="400.19" y="214.5" width="2.3" height="15.5" fill="#2962ff"/>
<rect x="403.21" y="212.2" width="1" height="9.3" fill="#f23645"/>
<rect x="402.56" y="214.5" width="2.3" height="5.5" fill="#f23645"/>
<rect x="405.57" y="206.7" width="1" height="21.9" fill="#2962ff"/>
<rect x="404.92" y="217" width="2.3" height="3" fill="#2962ff"/>
<rect x="407.94" y="208.3" width="1" height="11.7" fill="#2962ff"/>
<rect x="407.29" y="213" width="2.3" height="5.4" fill="#2962ff"/>
<rect x="410.3" y="203.6" width="1" height="12.4" fill="#2962ff"/>
<rect x="409.65" y="210.6" width="2.3" height="3.9" fill="#2962ff"/>
<rect x="412.67" y="193" width="1" height="49.6" fill="#f23645"/>
<rect x="412.02" y="210.6" width="2.3" height="15.65" fill="#f23645"/>
<rect x="415.03" y="206" width="1" height="26.5" fill="#f23645"/>
<rect x="414.38" y="225.5" width="2.3" height="5.5" fill="#f23645"/>
<rect x="417.4" y="228.5" width="1" height="7.1" fill="#f23645"/>
<rect x="416.75" y="230" width="2.3" height="4" fill="#f23645"/>
<rect x="419.76" y="232.5" width="1" height="23.5" fill="#f23645"/>
<rect x="419.11" y="234" width="2.3" height="20.4" fill="#f23645"/>
<rect x="422.13" y="250.5" width="1" height="17.8" fill="#f23645"/>
<rect x="421.48" y="253.6" width="2.3" height="7.65" fill="#f23645"/>
<rect x="424.49" y="251.25" width="1" height="20.15" fill="#f23645"/>
<rect x="423.84" y="257.5" width="2.3" height="8.5" fill="#f23645"/>
<rect x="426.86" y="263.6" width="1" height="28.9" fill="#f23645"/>
<rect x="426.21" y="265" width="2.3" height="23.6" fill="#f23645"/>
<rect x="429.22" y="261.25" width="1" height="29.75" fill="#2962ff"/>
<rect x="428.57" y="273.75" width="2.3" height="14.85" fill="#2962ff"/>
<rect x="431.59" y="268.3" width="1" height="14" fill="#f23645"/>
<rect x="430.94" y="273.75" width="2.3" height="7.05" fill="#f23645"/>
<rect x="433.95" y="277" width="1" height="32.5" fill="#f23645"/>
<rect x="433.3" y="278.4" width="2.3" height="23.5" fill="#f23645"/>
<rect x="436.32" y="270" width="1" height="34.2" fill="#2962ff"/>
<rect x="435.67" y="271.4" width="2.3" height="30.5" fill="#2962ff"/>
<rect x="438.68" y="264.5" width="1" height="18.5" fill="#2962ff"/>
<rect x="438.03" y="266" width="2.3" height="6.2" fill="#2962ff"/>
<rect x="441.05" y="238" width="1" height="30" fill="#2962ff"/>
<rect x="440.4" y="243.4" width="2.3" height="23.3" fill="#2962ff"/>
<rect x="443.41" y="236.4" width="1" height="22.5" fill="#f23645"/>
<rect x="442.76" y="243.4" width="2.3" height="14.1" fill="#f23645"/>
<rect x="445.78" y="251" width="1" height="12.6" fill="#2962ff"/>
<rect x="445.13" y="252.8" width="2.3" height="4.7" fill="#2962ff"/>
<rect x="448.14" y="224" width="1" height="35.8" fill="#2962ff"/>
<rect x="447.49" y="241" width="2.3" height="15" fill="#2962ff"/>
<rect x="450.51" y="235.6" width="1" height="10.9" fill="#f23645"/>
<rect x="449.86" y="241" width="2.3" height="4" fill="#f23645"/>
<rect x="452.87" y="240.5" width="1" height="17" fill="#f23645"/>
<rect x="452.22" y="242" width="2.3" height="7" fill="#f23645"/>
<rect x="455.24" y="243.5" width="1" height="13.2" fill="#f23645"/>
<rect x="454.59" y="245" width="2.3" height="8.6" fill="#f23645"/>
<rect x="457.6" y="248" width="1" height="24.2" fill="#2962ff"/>
<rect x="456.95" y="249.7" width="2.3" height="3.9" fill="#2962ff"/>
<rect x="459.97" y="218.4" width="1" height="33.6" fill="#2962ff"/>
<rect x="459.32" y="227" width="2.3" height="23.5" fill="#2962ff"/>
<rect x="462.33" y="209" width="1" height="20.5" fill="#2962ff"/>
<rect x="461.68" y="210.6" width="2.3" height="17.2" fill="#2962ff"/>
<rect x="464.7" y="210" width="1" height="28.75" fill="#f23645"/>
<rect x="464.05" y="211.4" width="2.3" height="20.3" fill="#f23645"/>
<rect x="467.06" y="213" width="1" height="25.75" fill="#2962ff"/>
<rect x="466.41" y="217.6" width="2.3" height="14.9" fill="#2962ff"/>
<rect x="469.43" y="204.4" width="1" height="36.6" fill="#f23645"/>
<rect x="468.78" y="217.6" width="2.3" height="3.2" fill="#f23645"/>
<rect x="471.79" y="201.7" width="1" height="25.3" fill="#2962ff"/>
<rect x="471.14" y="203.5" width="2.3" height="16.5" fill="#2962ff"/>
<rect x="474.16" y="197" width="1" height="9.5" fill="#2962ff"/>
<rect x="473.51" y="199.5" width="2.3" height="5.5" fill="#2962ff"/>
<rect x="476.52" y="194.7" width="1" height="10.3" fill="#2962ff"/>
<rect x="475.87" y="199.4" width="2.3" height="4.6" fill="#2962ff"/>
<rect x="478.89" y="198" width="1" height="18.75" fill="#f23645"/>
<rect x="478.24" y="199.4" width="2.3" height="13.4" fill="#f23645"/>
<rect x="481.25" y="211" width="1" height="9" fill="#f23645"/>
<rect x="480.6" y="212.8" width="2.3" height="2.4" fill="#f23645"/>
<rect x="483.62" y="212" width="1" height="14" fill="#f23645"/>
<rect x="482.97" y="214.4" width="2.3" height="10.1" fill="#f23645"/>
<rect x="485.98" y="217" width="1" height="17" fill="#f23645"/>
<rect x="485.33" y="218.3" width="2.3" height="10.2" fill="#f23645"/>
<rect x="488.35" y="203.5" width="1" height="39" fill="#2962ff"/>
<rect x="487.7" y="209" width="2.3" height="19.5" fill="#2962ff"/>
<rect x="490.71" y="207.2" width="1" height="18.1" fill="#f23645"/>
<rect x="490.06" y="209" width="2.3" height="11" fill="#f23645"/>
<rect x="493.08" y="203" width="1" height="21.5" fill="#2962ff"/>
<rect x="492.43" y="204.25" width="2.3" height="15.75" fill="#2962ff"/>
<rect x="495.44" y="199" width="1" height="14.5" fill="#2962ff"/>
<rect x="494.79" y="201" width="2.3" height="11" fill="#2962ff"/>
<rect x="497.81" y="179.8" width="1" height="23.2" fill="#2962ff"/>
<rect x="497.16" y="190" width="2.3" height="11.7" fill="#2962ff"/>
<rect x="500.17" y="181.4" width="1" height="10.6" fill="#2962ff"/>
<rect x="499.52" y="183" width="2.3" height="7.8" fill="#2962ff"/>
<rect x="502.54" y="181.5" width="1" height="14.5" fill="#f23645"/>
<rect x="501.89" y="183" width="2.3" height="11.7" fill="#f23645"/>
<rect x="504.9" y="188.4" width="1" height="20.6" fill="#f23645"/>
<rect x="504.25" y="194" width="2.3" height="9.3" fill="#f23645"/>
<rect x="507.27" y="196.25" width="1" height="9.25" fill="#2962ff"/>
<rect x="506.62" y="198.6" width="2.3" height="5.4" fill="#2962ff"/>
<rect x="509.63" y="192.3" width="1" height="10.2" fill="#f23645"/>
<rect x="508.98" y="198.6" width="2.3" height="2.4" fill="#f23645"/>
<rect x="512" y="183.75" width="1" height="18.25" fill="#2962ff"/>
<rect x="511.35" y="188.4" width="2.3" height="12.6" fill="#2962ff"/>
<rect x="514.36" y="172.8" width="1" height="17.7" fill="#2962ff"/>
<rect x="513.71" y="176.7" width="2.3" height="12.5" fill="#2962ff"/>
<rect x="516.73" y="161" width="1" height="18" fill="#2962ff"/>
<rect x="516.08" y="168" width="2.3" height="9.5" fill="#2962ff"/>
<rect x="519.09" y="141.3" width="1" height="22.9" fill="#f23645"/>
<rect x="518.44" y="142.3" width="2.3" height="9.4" fill="#f23645"/>
<rect x="521.46" y="126.4" width="1" height="28.4" fill="#2962ff"/>
<rect x="520.81" y="128" width="2.3" height="23.7" fill="#2962ff"/>
<rect x="523.82" y="100" width="1" height="30" fill="#2962ff"/>
<rect x="523.17" y="101.4" width="2.3" height="27.4" fill="#2962ff"/>
<rect x="526.19" y="83" width="1" height="29.4" fill="#f23645"/>
<rect x="525.54" y="101.4" width="2.3" height="8.6" fill="#f23645"/>
<rect x="528.55" y="106" width="1" height="54.3" fill="#f23645"/>
<rect x="527.9" y="109.25" width="2.3" height="46.35" fill="#f23645"/>
<rect x="530.92" y="148.6" width="1" height="21.1" fill="#f23645"/>
<rect x="530.27" y="154.8" width="2.3" height="11" fill="#f23645"/>
<rect x="533.28" y="164" width="1" height="26" fill="#f23645"/>
<rect x="532.63" y="165.8" width="2.3" height="22.6" fill="#f23645"/>
<rect x="535.65" y="182" width="1" height="19.7" fill="#f23645"/>
<rect x="535" y="187.7" width="2.3" height="9.3" fill="#f23645"/>
<rect x="538.01" y="191.5" width="1" height="25" fill="#f23645"/>
<rect x="537.36" y="196.25" width="2.3" height="18.75" fill="#f23645"/>
<rect x="540.38" y="204" width="1" height="16.6" fill="#f23645"/>
<rect x="539.73" y="205.8" width="2.3" height="10.2" fill="#f23645"/>
<rect x="542.74" y="205" width="1" height="29.7" fill="#f23645"/>
<rect x="542.09" y="213.6" width="2.3" height="14.1" fill="#f23645"/>
<rect x="545.11" y="216.75" width="1" height="15.65" fill="#2962ff"/>
<rect x="544.46" y="218.3" width="2.3" height="9.4" fill="#2962ff"/>
<rect x="547.47" y="211" width="1" height="12.8" fill="#f23645"/>
<rect x="546.82" y="217.5" width="2.3" height="2.5" fill="#f23645"/>
<rect x="549.84" y="213" width="1" height="17.8" fill="#2962ff"/>
<rect x="549.19" y="214.4" width="2.3" height="4.6" fill="#2962ff"/>
<rect x="552.2" y="191.5" width="1" height="26" fill="#2962ff"/>
<rect x="551.55" y="193" width="2.3" height="23" fill="#2962ff"/>
<rect x="554.57" y="174.4" width="1" height="21.1" fill="#2962ff"/>
<rect x="553.92" y="176.7" width="2.3" height="17.3" fill="#2962ff"/>
<rect x="556.93" y="172" width="1" height="24" fill="#f23645"/>
<rect x="556.28" y="176.7" width="2.3" height="18" fill="#f23645"/>
<rect x="559.3" y="190" width="1" height="19" fill="#f23645"/>
<rect x="558.65" y="194" width="2.3" height="13.4" fill="#f23645"/>
<rect x="561.66" y="201" width="1" height="29" fill="#f23645"/>
<rect x="561.01" y="202.7" width="2.3" height="25.8" fill="#f23645"/>
<rect x="564.03" y="216" width="1" height="16.4" fill="#2962ff"/>
<rect x="563.38" y="223" width="2.3" height="5.5" fill="#2962ff"/>
<rect x="566.39" y="216.75" width="1" height="50.25" fill="#f23645"/>
<rect x="565.74" y="223" width="2.3" height="38" fill="#f23645"/>
<rect x="568.75" y="235.5" width="1" height="26.5" fill="#2962ff"/>
<rect x="568.11" y="244" width="2.3" height="16.5" fill="#2962ff"/>
<rect x="571.12" y="234" width="1" height="20" fill="#f23645"/>
<rect x="570.47" y="244" width="2.3" height="3" fill="#f23645"/>
<rect x="573.49" y="234.7" width="1" height="16.3" fill="#2962ff"/>
<rect x="572.84" y="241.75" width="2.3" height="4.65" fill="#2962ff"/>
<rect x="575.85" y="221.4" width="1" height="22.6" fill="#2962ff"/>
<rect x="575.2" y="228.5" width="2.3" height="14" fill="#2962ff"/>
<rect x="578.22" y="225.3" width="1" height="22.7" fill="#f23645"/>
<rect x="577.57" y="228.5" width="2.3" height="5.5" fill="#f23645"/>
<rect x="580.58" y="231.5" width="1" height="18" fill="#f23645"/>
<rect x="579.93" y="233" width="2.3" height="6.4" fill="#f23645"/>
<rect x="582.95" y="227" width="1" height="14.75" fill="#2962ff"/>
<rect x="582.3" y="230" width="2.3" height="9.4" fill="#2962ff"/>
<rect x="585.31" y="216" width="1" height="25.5" fill="#2962ff"/>
<rect x="584.66" y="229" width="2.3" height="11" fill="#2962ff"/>
<rect x="587.68" y="218.3" width="1" height="14.1" fill="#f23645"/>
<rect x="587.03" y="223.8" width="2.3" height="7" fill="#f23645"/>
<rect x="590.04" y="222" width="1" height="23" fill="#2962ff"/>
<rect x="589.39" y="226" width="2.3" height="18" fill="#2962ff"/>
<rect x="592.41" y="228.5" width="1" height="33.5" fill="#f23645"/>
<rect x="591.76" y="230" width="2.3" height="30.5" fill="#f23645"/>
<rect x="594.77" y="250.5" width="1" height="15.9" fill="#2962ff"/>
<rect x="594.12" y="252" width="2.3" height="8.5" fill="#2962ff"/>
<rect x="597.14" y="235.5" width="1" height="18.5" fill="#2962ff"/>
<rect x="596.49" y="237" width="2.3" height="15.7" fill="#2962ff"/>
<rect x="599.5" y="234.7" width="1" height="14.8" fill="#f23645"/>
<rect x="598.85" y="236.3" width="2.3" height="11.7" fill="#f23645"/>
<rect x="601.87" y="243.3" width="1" height="16.2" fill="#f23645"/>
<rect x="601.22" y="247.2" width="2.3" height="10.8" fill="#f23645"/>
<rect x="604.23" y="254.7" width="1" height="22.3" fill="#f23645"/>
<rect x="603.58" y="257.8" width="2.3" height="18" fill="#f23645"/>
<rect x="606.6" y="260" width="1" height="17" fill="#2962ff"/>
<rect x="605.95" y="268" width="2.3" height="7.8" fill="#2962ff"/>
<rect x="608.96" y="266" width="1" height="38.7" fill="#f23645"/>
<rect x="608.31" y="267.2" width="2.3" height="35.8" fill="#f23645"/>
<rect x="611.33" y="293.75" width="1" height="18.75" fill="#2962ff"/>
<rect x="610.68" y="298.4" width="2.3" height="3.1" fill="#2962ff"/>
<rect x="613.69" y="265.6" width="1" height="37.4" fill="#2962ff"/>
<rect x="613.04" y="269.5" width="2.3" height="28.9" fill="#2962ff"/>
<rect x="616.06" y="265.6" width="1" height="19.4" fill="#f23645"/>
<rect x="615.41" y="269.5" width="2.3" height="14.1" fill="#f23645"/>
<rect x="618.42" y="271" width="1" height="15.7" fill="#2962ff"/>
<rect x="617.77" y="272.6" width="2.3" height="11" fill="#2962ff"/>
</g>
<g stroke="#fff" stroke-width="2.3" stroke-linecap="round" fill="none"><line x1="616.3" y1="307" x2="654.9" y2="213.8"/><polyline points="638.6,221.2 654.9,213.8 661.4,230.7"/></g>
<g id="legend" aria-label="米ドル／円 · 4時間 · FXCM 始値143.393 高値143.647 安値143.314 終値143.631 +0.238 (+0.17%)">
<text x="14.3" y="36.7" font-size="9.6" fill="#f0f0f0" font-weight="bold" textLength="48.3" lengthAdjust="spacingAndGlyphs">米ドル／円</text>
<circle cx="66.3" cy="33.5" r="0.95" fill="#f0f0f0"/>
<text x="71.9" y="37" font-size="9.8" fill="#f0f0f0" textLength="4.9" lengthAdjust="spacingAndGlyphs" font-weight="bold">4</text>
<text x="76.9" y="36.7" font-size="9.4" fill="#f0f0f0" font-weight="bold" textLength="18.6" lengthAdjust="spacingAndGlyphs">時間</text>
<circle cx="100.6" cy="33.5" r="0.95" fill="#f0f0f0"/>
<text x="105" y="37" font-size="9.8" fill="#f0f0f0" textLength="23" lengthAdjust="spacingAndGlyphs" font-weight="bold">FXCM</text>
<text x="134" y="36.7" font-size="9.6" fill="#f0f0f0" font-weight="bold" textLength="19.3" lengthAdjust="spacingAndGlyphs">始値</text>
<text x="153.9" y="37" font-size="9.8" fill="#2a5ff0" textLength="33" lengthAdjust="spacingAndGlyphs">143.393</text>
<text x="193" y="36.7" font-size="9.6" fill="#f0f0f0" font-weight="bold" textLength="19.3" lengthAdjust="spacingAndGlyphs">高値</text>
<text x="212.2" y="37" font-size="9.8" fill="#2a5ff0" textLength="33.2" lengthAdjust="spacingAndGlyphs">143.647</text>
<text x="251.8" y="36.7" font-size="9.6" fill="#f0f0f0" font-weight="bold" textLength="19.3" lengthAdjust="spacingAndGlyphs">安値</text>
<text x="271.3" y="37" font-size="9.8" fill="#2a5ff0" textLength="33.2" lengthAdjust="spacingAndGlyphs">143.314</text>
<text x="310" y="36.7" font-size="9.6" fill="#f0f0f0" font-weight="bold" textLength="19.3" lengthAdjust="spacingAndGlyphs">終値</text>
<text x="329.9" y="37" font-size="9.8" fill="#2a5ff0" textLength="32.2" lengthAdjust="spacingAndGlyphs">143.631</text>
<text x="369" y="37" font-size="9.8" fill="#2a5ff0" textLength="67" lengthAdjust="spacingAndGlyphs">+0.238 (+0.17%)</text>
</g>
<g id="axis" stroke-width="0.3">
<rect x="967" y="22" width="48.6" height="406" fill="#000"/>
<line x1="966.5" x2="966.5" y1="22" y2="428" stroke="#4a4a4a" stroke-width="1" stroke-dasharray="1 1.4"/>
<text x="973.9" y="388.9" font-size="10" fill="#e8e8e8" textLength="33.2" lengthAdjust="spacingAndGlyphs" stroke="#e8e8e8">141.000</text>
<text x="973.9" y="345.9" font-size="10" fill="#e8e8e8" textLength="33.2" lengthAdjust="spacingAndGlyphs" stroke="#e8e8e8">142.000</text>
<text x="973.9" y="302.9" font-size="10" fill="#e8e8e8" textLength="33.2" lengthAdjust="spacingAndGlyphs" stroke="#e8e8e8">143.000</text>
<text x="973.9" y="259.9" font-size="10" fill="#e8e8e8" textLength="33.2" lengthAdjust="spacingAndGlyphs" stroke="#e8e8e8">144.000</text>
<text x="973.9" y="216.9" font-size="10" fill="#e8e8e8" textLength="33.2" lengthAdjust="spacingAndGlyphs" stroke="#e8e8e8">145.000</text>
<text x="973.9" y="173.9" font-size="10" fill="#e8e8e8" textLength="33.2" lengthAdjust="spacingAndGlyphs" stroke="#e8e8e8">146.000</text>
<text x="973.9" y="130.9" font-size="10" fill="#e8e8e8" textLength="33.2" lengthAdjust="spacingAndGlyphs" stroke="#e8e8e8">147.000</text>
<text x="973.9" y="87.9" font-size="10" fill="#e8e8e8" textLength="33.2" lengthAdjust="spacingAndGlyphs" stroke="#e8e8e8">148.000</text>
<rect x="969.5" y="24.8" width="43.5" height="21" rx="3" fill="#161616" stroke="#2e2e2e" stroke-width="1"/>
<text x="976.6" y="39" font-size="9.6" fill="#e0e0e0" textLength="17.5" lengthAdjust="spacingAndGlyphs">JPY</text>
<rect x="967" y="224.7" width="44.7" height="12.8" fill="#dadada"/>
<text x="973.9" y="234.6" font-size="10" fill="#1a1a1a" textLength="33.2" lengthAdjust="spacingAndGlyphs" stroke="#1a1a1a" stroke-width="0.2">144.610</text>
<rect x="967" y="248.2" width="44.7" height="13.2" fill="#ffeb3b"/>
<text x="973.9" y="258.4" font-size="10" fill="#1a1a1a" textLength="33.2" lengthAdjust="spacingAndGlyphs" stroke="#1a1a1a" stroke-width="0.2">144.065</text>
<rect x="967" y="266" width="44.7" height="24.4" fill="#2962ff"/>
<text x="973.9" y="276.4" font-size="10" fill="#fff" textLength="33.2" lengthAdjust="spacingAndGlyphs" font-weight="bold">143.631</text>
<text x="973.9" y="287.2" font-size="10" fill="#e4eaff" textLength="23.5" lengthAdjust="spacingAndGlyphs" font-weight="bold">17:56</text>
<rect x="967" y="388.4" width="41.8" height="13.3" fill="#26a69a"/>
<text x="974.3" y="398.9" font-size="10" fill="#fff" textLength="30.4" lengthAdjust="spacingAndGlyphs" stroke="#fff">17.24K</text>
</g>
<g id="time">
<rect x="8" y="407" width="1007.6" height="21.3" fill="#000"/>
<rect x="8" y="406.3" width="1007.6" height="1.2" fill="#4a4a4a"/>
<text x="31.95" y="421.2" font-size="10.4" fill="#f2f2f2" textLength="5.3" lengthAdjust="spacingAndGlyphs" font-weight="bold" stroke="#f2f2f2" stroke-width="0.2">6</text>
<text x="74.15" y="421.2" font-size="10.4" fill="#f2f2f2" textLength="5.3" lengthAdjust="spacingAndGlyphs" font-weight="bold" stroke="#f2f2f2" stroke-width="0.2">9</text>
<text x="115" y="421.2" font-size="10.4" fill="#f2f2f2" textLength="10.4" lengthAdjust="spacingAndGlyphs" font-weight="bold" stroke="#f2f2f2" stroke-width="0.2">14</text>
<text x="157.5" y="421.2" font-size="10.4" fill="#f2f2f2" textLength="10.4" lengthAdjust="spacingAndGlyphs" font-weight="bold" stroke="#f2f2f2" stroke-width="0.2">17</text>
<text x="199.5" y="421.2" font-size="10.4" fill="#f2f2f2" textLength="10.4" lengthAdjust="spacingAndGlyphs" font-weight="bold" stroke="#f2f2f2" stroke-width="0.2">22</text>
<text x="242" y="421.2" font-size="10.4" fill="#f2f2f2" textLength="10.4" lengthAdjust="spacingAndGlyphs" font-weight="bold" stroke="#f2f2f2" stroke-width="0.2">27</text>
<text x="358.25" y="421.2" font-size="10.4" fill="#f2f2f2" textLength="5.3" lengthAdjust="spacingAndGlyphs" font-weight="bold" stroke="#f2f2f2" stroke-width="0.2">6</text>
<text x="397.9" y="421.2" font-size="10.4" fill="#f2f2f2" textLength="10.4" lengthAdjust="spacingAndGlyphs" font-weight="bold" stroke="#f2f2f2" stroke-width="0.2">11</text>
<text x="441.1" y="421.2" font-size="10.4" fill="#f2f2f2" textLength="10.4" lengthAdjust="spacingAndGlyphs" font-weight="bold" stroke="#f2f2f2" stroke-width="0.2">14</text>
<text x="483.3" y="421.2" font-size="10.4" fill="#f2f2f2" textLength="10.4" lengthAdjust="spacingAndGlyphs" font-weight="bold" stroke="#f2f2f2" stroke-width="0.2">19</text>
<text x="525.8" y="421.2" font-size="10.4" fill="#f2f2f2" textLength="10.4" lengthAdjust="spacingAndGlyphs" font-weight="bold" stroke="#f2f2f2" stroke-width="0.2">24</text>
<text x="642.35" y="421.2" font-size="10.4" fill="#f2f2f2" textLength="5.3" lengthAdjust="spacingAndGlyphs" font-weight="bold" stroke="#f2f2f2" stroke-width="0.2">4</text>
<text x="684.55" y="421.2" font-size="10.4" fill="#f2f2f2" textLength="5.3" lengthAdjust="spacingAndGlyphs" font-weight="bold" stroke="#f2f2f2" stroke-width="0.2">9</text>
<text x="724.6" y="421.2" font-size="10.4" fill="#f2f2f2" textLength="10.4" lengthAdjust="spacingAndGlyphs" font-weight="bold" stroke="#f2f2f2" stroke-width="0.2">12</text>
<text x="767.1" y="421.2" font-size="10.4" fill="#f2f2f2" textLength="10.4" lengthAdjust="spacingAndGlyphs" font-weight="bold" stroke="#f2f2f2" stroke-width="0.2">17</text>
<text x="809.3" y="421.2" font-size="10.4" fill="#f2f2f2" textLength="10.4" lengthAdjust="spacingAndGlyphs" font-weight="bold" stroke="#f2f2f2" stroke-width="0.2">22</text>
<text x="852.5" y="421.2" font-size="10.4" fill="#f2f2f2" textLength="10.4" lengthAdjust="spacingAndGlyphs" font-weight="bold" stroke="#f2f2f2" stroke-width="0.2">25</text>
<text x="298.6" y="421.2" font-size="10.4" fill="#f2f2f2" textLength="5.3" lengthAdjust="spacingAndGlyphs" font-weight="bold" stroke="#f2f2f2" stroke-width="0.2">6</text>
<text x="303.9" y="420.9" font-size="9.6" fill="#f2f2f2" font-weight="bold">月</text>
<text x="594.8" y="421.2" font-size="10.4" fill="#f2f2f2" textLength="5.3" lengthAdjust="spacingAndGlyphs" font-weight="bold" stroke="#f2f2f2" stroke-width="0.2">7</text>
<text x="600.1" y="420.9" font-size="9.6" fill="#f2f2f2" font-weight="bold">月</text>
<text x="920.4" y="421.2" font-size="10.4" fill="#f2f2f2" textLength="5.3" lengthAdjust="spacingAndGlyphs" font-weight="bold" stroke="#f2f2f2" stroke-width="0.2">8</text>
<text x="925.7" y="420.9" font-size="9.6" fill="#f2f2f2" font-weight="bold">月</text>
<line x1="966.5" x2="966.5" y1="407" y2="428" stroke="#4a4a4a" stroke-width="1" stroke-dasharray="1 1.4"/>
</g>
<g id="icons">
<circle cx="619.2" cy="396.6" r="7.9" fill="#141414" stroke="#a13cb5" stroke-width="1.1"/>
<path d="M621.6 391.4 L616.2 397.4 L619.1 397.4 L616.9 402 L622.5 395.8 L619.5 395.8 Z" fill="#b444d0"/>
<circle cx="642.9" cy="396.1" r="8.3" fill="#0a0a0a" stroke="#d9303e" stroke-width="0.9"/><circle cx="641.35" cy="396.1" r="8.3" fill="#0a0a0a" stroke="#d9303e" stroke-width="0.9"/><circle cx="639.8" cy="396.1" r="8.1" fill="#0a0a0a" stroke="#d9303e" stroke-width="1.4"/><clipPath id="fc639"><circle cx="639.8" cy="396.1" r="6.4"/></clipPath><g clip-path="url(#fc639)"><rect x="633.3" y="389.6" width="13" height="13" fill="#f4f4f4"/><rect x="633.3" y="389.8" width="13" height="2.6" fill="#e5484d"/><rect x="633.3" y="395" width="13" height="2.6" fill="#e5484d"/><rect x="633.3" y="400.2" width="13" height="2.6" fill="#e5484d"/><rect x="633.3" y="389.6" width="8.4" height="8.1" fill="#4389e4"/></g>
<circle cx="939.9" cy="396" r="8.3" fill="#0a0a0a" stroke="#d9303e" stroke-width="0.9"/><circle cx="938.3" cy="396" r="8.1" fill="#0a0a0a" stroke="#d9303e" stroke-width="1.4"/><clipPath id="fc938"><circle cx="938.3" cy="396" r="6.4"/></clipPath><g clip-path="url(#fc938)"><rect x="931.8" y="389.5" width="13" height="13" fill="#f4f4f4"/><rect x="931.8" y="389.7" width="13" height="2.6" fill="#e5484d"/><rect x="931.8" y="394.9" width="13" height="2.6" fill="#e5484d"/><rect x="931.8" y="400.1" width="13" height="2.6" fill="#e5484d"/><rect x="931.8" y="389.5" width="8.4" height="8.1" fill="#4389e4"/></g>
</g>
<g id="logo" fill="#1e1e1e">
<path d="M8.1 438.7 h6.1 v7.5 h-3.1 v-4.5 h-3 z"/>
<circle cx="16.1" cy="440.3" r="1.55"/>
<path d="M19.6 438.7 h3.5 l-3.2 7.5 h-3.5 z"/>
</g>
<text x="26.9" y="446.2" font-size="10.4" fill="#262626" textLength="55.6" lengthAdjust="spacingAndGlyphs" stroke="#262626" stroke-width="0.2">TradingView</text>
</svg></body></html>
